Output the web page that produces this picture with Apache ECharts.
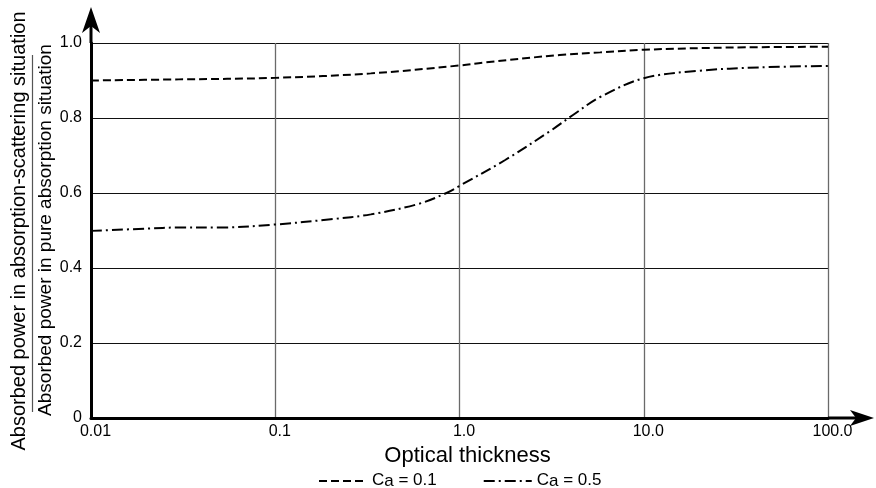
<!DOCTYPE html>
<html>
<head>
<meta charset="utf-8">
<script src="https://cdn.jsdelivr.net/npm/echarts@6/dist/echarts.min.js"></script>
<style>
html,body{margin:0;padding:0;background:#fff;}
#chart{width:876px;height:488px;}
</style>
</head>
<body>
<div id="chart"></div>
<script>
// ---- data ----
var xTickLabels = ['0.01', '0.1', '1.0', '10.0', '100.0'];
var yTickLabels = ['0', '0.2', '0.4', '0.6', '0.8', '1.0'];
var seriesNames = ['Ca = 0.1', 'Ca = 0.5'];
var tauCa01 = [0.01, 0.03, 0.1, 0.33, 1.0, 1.36, 3.5, 5.8, 10, 30, 100];
var valCa01 = [0.900, 0.903, 0.907, 0.919, 0.940, 0.948, 0.968, 0.975, 0.982, 0.988, 0.990];
var tauCa05 = [0.01, 0.02, 0.03, 0.05, 0.1, 0.2, 0.33, 0.6, 0.85, 1.0, 1.77, 3.1, 4.13, 5.8, 10, 20, 43, 100];
var valCa05 = [0.499, 0.505, 0.508, 0.508, 0.516, 0.530, 0.543, 0.571, 0.600, 0.619, 0.688, 0.765, 0.808, 0.856, 0.906, 0.926, 0.935, 0.939];
var xTitle = 'Optical thickness';
var yTitleTop = 'Absorbed power in absorption-scattering situation';
var yTitleBottom = 'Absorbed power in pure absorption situation';

function pairs(xs, ys) { return xs.map(function (x, i) { return [x, ys[i]]; }); }

var FONT = '"Liberation Sans", Arial, Helvetica, sans-serif';
var G = { left: 91, right: 48, top: 43, bottom: 70 };
var W = 876, H = 488;
var x0 = G.left, x1 = W - G.right, yB = H - G.bottom, yT = G.top;

var chart = echarts.init(document.getElementById('chart'), null, { renderer: 'canvas' });

var legendFmt = function (name) {
  var parts = name.split(' = ');
  return '{t|C}{s|a}{t| = ' + parts[1] + '}';
};

var option = {
  animation: false,
  backgroundColor: '#fff',
  textStyle: { fontFamily: FONT },
  grid: { left: G.left, right: G.right, top: G.top, bottom: G.bottom, containLabel: false },
  xAxis: {
    type: 'log', logBase: 10, min: 0.01, max: 100,
    name: xTitle, nameLocation: 'middle', nameGap: 21,
    nameTextStyle: { fontSize: 22, color: '#000', fontFamily: FONT, padding: [0, 0, 0, 16] },
    axisLine: { show: true, onZero: false, lineStyle: { color: '#000', width: 3 } },
    axisTick: { show: false },
    minorTick: { show: false },
    axisLabel: {
      fontSize: 16, color: '#000', fontFamily: FONT, margin: 6, padding: [0, 0, 0, 9],
      formatter: function (v) {
        var k = Math.round(Math.log10(v));
        return xTickLabels[k + 2] !== undefined ? xTickLabels[k + 2] : '';
      }
    },
    splitLine: { show: true, lineStyle: { color: '#6a6a6a', width: 1.3 } }
  },
  yAxis: {
    type: 'value', min: 0, max: 1, interval: 0.2,
    axisLine: { show: true, onZero: false, lineStyle: { color: '#000', width: 3 } },
    axisTick: { show: false },
    axisLabel: {
      fontSize: 16, color: '#000', fontFamily: FONT, margin: 9,
      formatter: function (v) { return yTickLabels[Math.round(v / 0.2)]; }
    },
    splitLine: { show: true, lineStyle: { color: '#111', width: 1 } }
  },
  legend: {
    show: true, left: 313, top: 463, itemWidth: 48, itemHeight: 10, itemGap: 46,
    data: seriesNames,
    formatter: legendFmt,
    itemStyle: { opacity: 0 },
    textStyle: {
      color: '#000', fontFamily: FONT, fontSize: 17,
      rich: {
        t: { fontSize: 17, fontFamily: FONT, color: '#000', lineHeight: 18, verticalAlign: 'top' },
        s: { fontSize: 17, fontFamily: FONT, color: '#000', lineHeight: 18, verticalAlign: 'bottom', padding: [5, 0, 0, 0] }
      }
    }
  },
  series: [
    {
      name: seriesNames[0], type: 'line', data: pairs(tauCa01, valCa01),
      smooth: 0.35, symbol: 'none',
      lineStyle: { color: '#000', width: 2, type: [8, 4] },
      itemStyle: { color: '#000' }
    },
    {
      name: seriesNames[1], type: 'line', data: pairs(tauCa05, valCa05),
      smooth: 0.35, symbol: 'none',
      lineStyle: { color: '#000', width: 2, type: [11, 4, 2, 4] },
      itemStyle: { color: '#000' }
    }
  ],
  graphic: {
    elements: [
      // axis extensions and arrowheads
      { type: 'line', shape: { x1: x0, y1: yT, x2: x0, y2: 20 }, style: { stroke: '#000', lineWidth: 3 }, z: 10 },
      { type: 'polygon', shape: { points: [[x0, 7], [x0 - 9, 33], [x0, 26], [x0 + 9, 33]] }, style: { fill: '#000' }, z: 10 },
      { type: 'line', shape: { x1: x1, y1: yB, x2: 862, y2: yB }, style: { stroke: '#000', lineWidth: 3 }, z: 10 },
      { type: 'polygon', shape: { points: [[874, yB], [850, yB - 8], [856, yB], [850, yB + 8]] }, style: { fill: '#000' }, z: 10 },
      // fraction rule of the y title
      { type: 'line', shape: { x1: 32.5, y1: 55, x2: 32.5, y2: 412 }, style: { stroke: '#555', lineWidth: 1.2 }, z: 20 },
      // y title (fraction)
      { type: 'text', x: 19, y: 231, rotation: Math.PI / 2,
        style: { text: yTitleTop, font: '20px ' + FONT, fill: '#000', textAlign: 'center', textVerticalAlign: 'middle' } },
      { type: 'text', x: 46, y: 230, rotation: Math.PI / 2,
        style: { text: yTitleBottom, font: '19px ' + FONT, fill: '#000', textAlign: 'center', textVerticalAlign: 'middle' } }
    ]
  }
};
chart.setOption(option);
</script>
</body>
</html>
